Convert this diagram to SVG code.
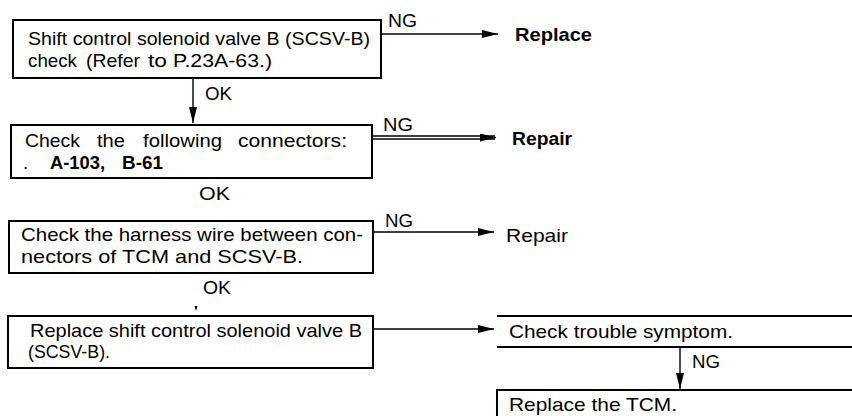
<svg xmlns="http://www.w3.org/2000/svg" width="852" height="416" viewBox="0 0 852 416">
<style>
text{font-family:"Liberation Sans",Arial,sans-serif;fill:#000}
.t{font-size:19px}
.lb{font-size:18px}
.bd{font-size:19px;font-weight:bold}
.sb{font-size:19px;font-weight:bold}
.box{fill:none;stroke:#000;stroke-width:2}
.ln{fill:none;stroke:#000;stroke-width:1.4}
</style>
<defs>
<marker id="ah" viewBox="0 0 16 8" refX="16" refY="4" markerWidth="16" markerHeight="8" markerUnits="userSpaceOnUse" orient="auto">
<path d="M0,0 L16,4 L0,8 z" fill="#000"/>
</marker>
</defs>
<rect width="852" height="416" fill="#fff"/>
<g id="connectors">
<line class="ln" x1="380" y1="34" x2="498" y2="34" marker-end="url(#ah)"/>
<text class="lb" x="388" y="27" textLength="29" lengthAdjust="spacingAndGlyphs">NG</text>
<line class="ln" x1="193" y1="78" x2="193" y2="123" marker-end="url(#ah)"/>
<text class="lb" x="205" y="100" textLength="27" lengthAdjust="spacingAndGlyphs">OK</text>
<line class="ln" x1="373" y1="136" x2="495" y2="136"/>
<line class="ln" x1="373" y1="139" x2="495" y2="139"/>
<line class="ln" x1="480" y1="137.5" x2="496" y2="137.5" marker-end="url(#ah)"/>
<text class="lb" x="383" y="131" textLength="30" lengthAdjust="spacingAndGlyphs">NG</text>
<text class="lb" x="199" y="200" textLength="31" lengthAdjust="spacingAndGlyphs">OK</text>
<line class="ln" x1="373" y1="232" x2="494" y2="232" marker-end="url(#ah)"/>
<text class="lb" x="385" y="227" textLength="28" lengthAdjust="spacingAndGlyphs">NG</text>
<text class="lb" x="203" y="294" textLength="28" lengthAdjust="spacingAndGlyphs">OK</text>
<path d="M194.5,306 L197.5,306 L196,311 z" fill="#000"/>
<line class="ln" x1="373" y1="329" x2="494" y2="329" marker-end="url(#ah)"/>
<line class="ln" x1="680" y1="347" x2="680" y2="389" marker-end="url(#ah)"/>
<text class="lb" x="692" y="368" textLength="28" lengthAdjust="spacingAndGlyphs">NG</text>
</g>
<g id="n1">
<rect class="box" x="13" y="20" width="368" height="58"/>
<text class="t" x="28" y="45" textLength="342" lengthAdjust="spacingAndGlyphs">Shift control solenoid valve B (SCSV-B)</text>
<text class="t" x="28" y="67" textLength="49" lengthAdjust="spacingAndGlyphs">check</text>
<text class="t" x="86" y="67" textLength="54" lengthAdjust="spacingAndGlyphs">(Refer</text>
<text class="t" x="148" y="67" textLength="19" lengthAdjust="spacingAndGlyphs">to</text>
<text class="t" x="173" y="67" textLength="99" lengthAdjust="spacingAndGlyphs">P.23A-63.)</text>
</g>
<g id="n_replace">
<text class="bd" x="515" y="41" textLength="77" lengthAdjust="spacingAndGlyphs">Replace</text>
</g>
<g id="n2">
<rect class="box" x="11" y="125" width="361" height="53"/>
<text class="t" x="25" y="147" textLength="55" lengthAdjust="spacingAndGlyphs">Check</text>
<text class="t" x="97" y="147" textLength="28" lengthAdjust="spacingAndGlyphs">the</text>
<text class="t" x="143" y="147" textLength="79" lengthAdjust="spacingAndGlyphs">following</text>
<text class="t" x="238" y="147" textLength="109" lengthAdjust="spacingAndGlyphs">connectors:</text>
<text class="t" x="23" y="169">.</text>
<text class="sb" x="50" y="169" textLength="55" lengthAdjust="spacingAndGlyphs">A-103,</text>
<text class="sb" x="122" y="169" textLength="41" lengthAdjust="spacingAndGlyphs">B-61</text>
</g>
<g id="n_repair1">
<text class="bd" x="512" y="145" textLength="60" lengthAdjust="spacingAndGlyphs">Repair</text>
</g>
<g id="n3">
<rect class="box" x="9" y="221" width="364" height="52"/>
<text class="t" x="21" y="241" textLength="342" lengthAdjust="spacingAndGlyphs">Check the harness wire between con-</text>
<text class="t" x="21" y="263" textLength="282" lengthAdjust="spacingAndGlyphs">nectors of TCM and SCSV-B.</text>
</g>
<g id="n_repair2">
<text class="t" x="506" y="242" textLength="62" lengthAdjust="spacingAndGlyphs">Repair</text>
</g>
<g id="n4">
<rect class="box" x="8" y="316" width="365" height="52"/>
<text class="t" x="30" y="337" textLength="332" lengthAdjust="spacingAndGlyphs">Replace shift control solenoid valve B</text>
<text class="t" x="28" y="358" textLength="82" lengthAdjust="spacingAndGlyphs">(SCSV-B).</text>
</g>
<g id="n5">
<line class="box" x1="497" y1="316" x2="852" y2="316"/>
<line class="box" x1="497" y1="347" x2="852" y2="347"/>
<text class="t" x="509" y="338" textLength="224" lengthAdjust="spacingAndGlyphs">Check trouble symptom.</text>
</g>
<g id="n6">
<path class="box" d="M852,390 H497 V420"/>
<text class="t" x="509" y="411" textLength="168" lengthAdjust="spacingAndGlyphs">Replace the TCM.</text>
</g>
</svg>
